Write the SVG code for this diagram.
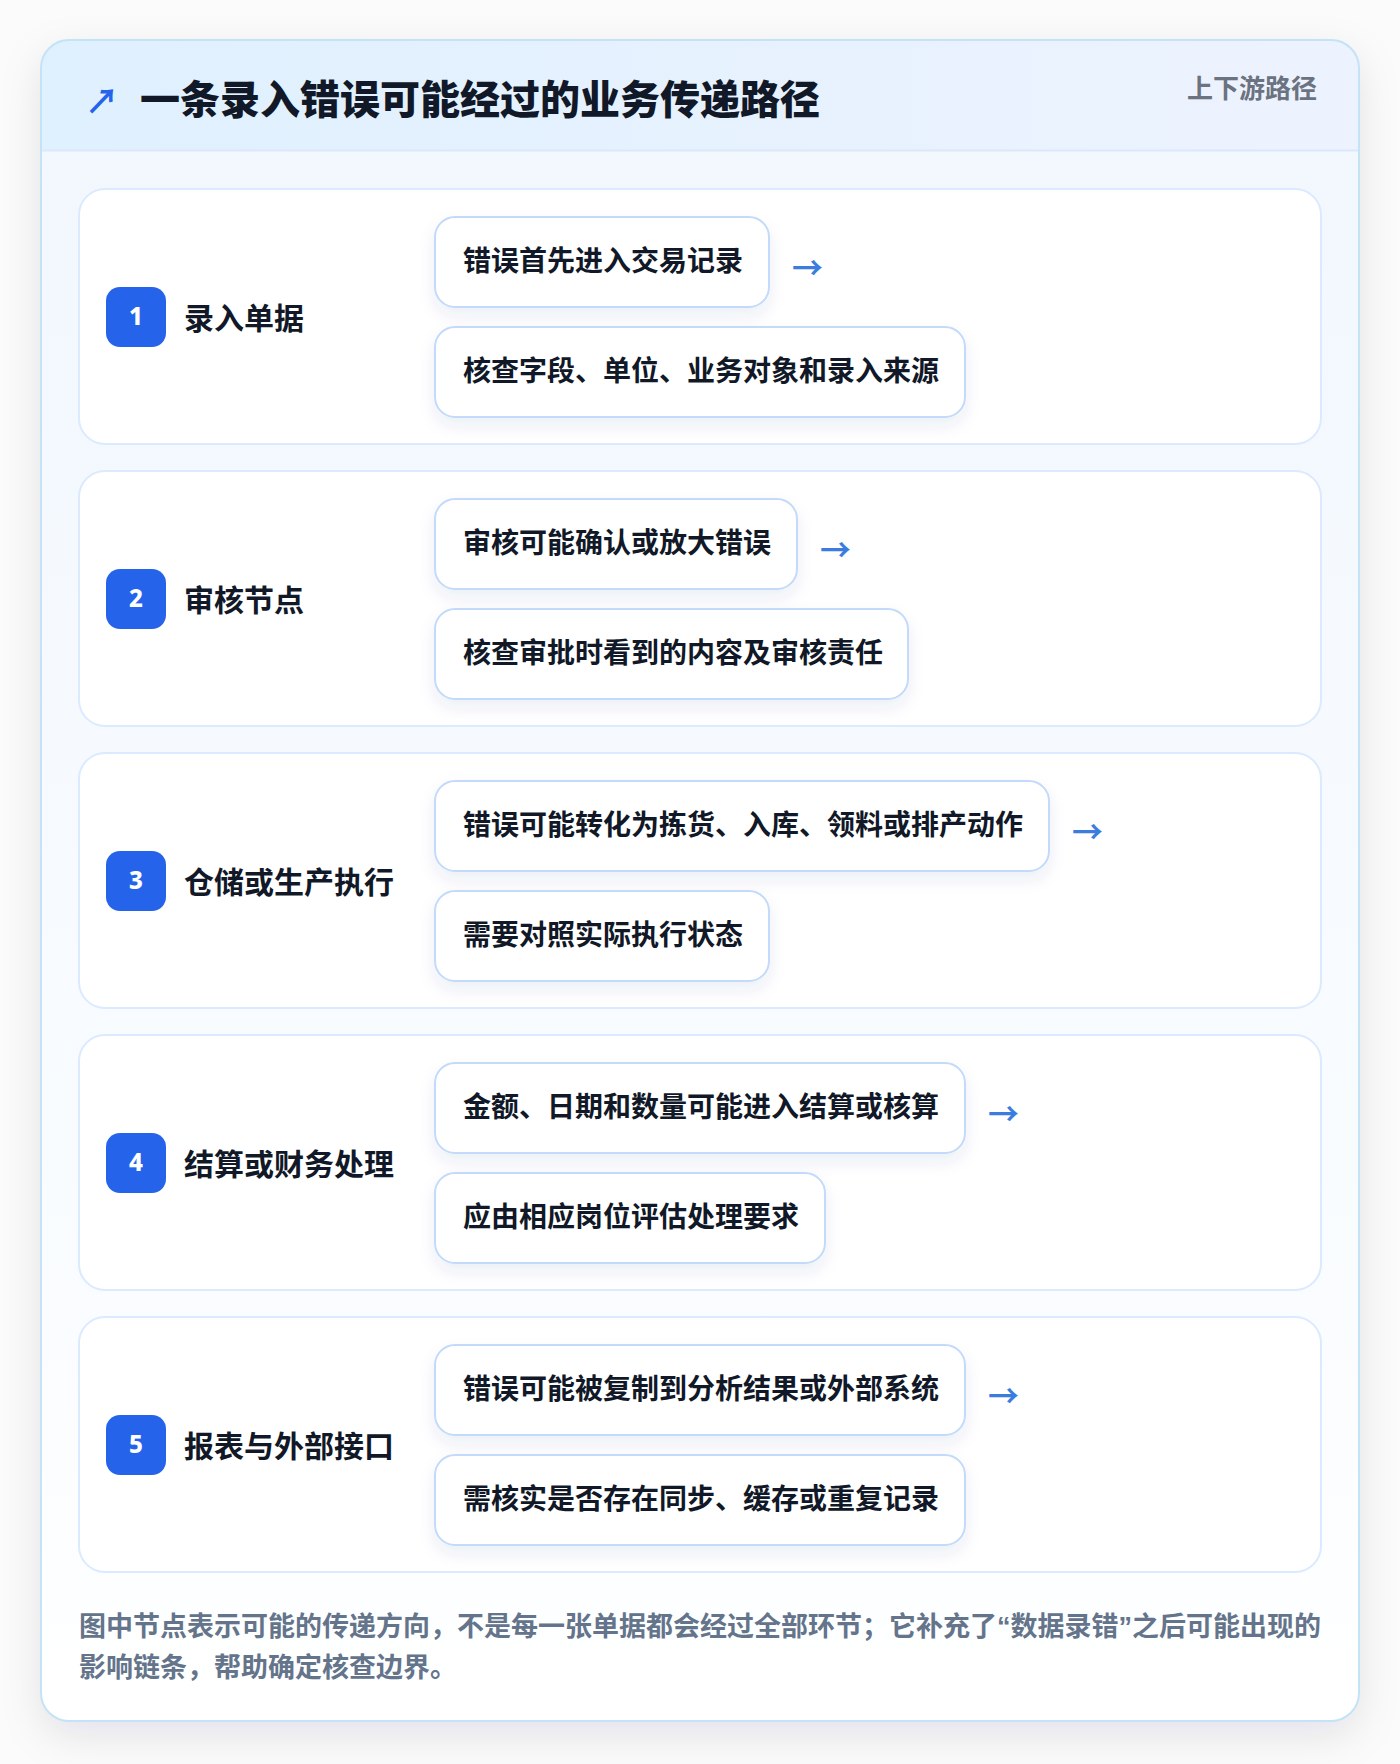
<svg xmlns="http://www.w3.org/2000/svg" width="1400" height="1764" viewBox="0 0 1400 1764">
<defs>
<style>
.cjk{font-family:"Noto Sans CJK SC","Noto Sans",sans-serif;font-weight:700}
.title{font-size:40px;fill:#111827;font-weight:900}
.tag{font-size:26px;fill:#6b7280}
.row{fill:#ffffff;stroke:#dbeafe;stroke-width:2}
.badge{fill:#2563eb}
.num{font-family:"Noto Sans","DejaVu Sans",sans-serif;font-weight:800;font-size:24px;fill:#ffffff}
.label{font-size:30px;fill:#111827}
.box{fill:#ffffff;stroke:#c3dafa;stroke-width:2}
.btxt{font-size:28px;fill:#111827}
.arr{font-size:31px;fill:#3b7ddd;font-weight:700}
.foot{font-size:27px;fill:#64748b}
.q{font-family:"Liberation Sans",sans-serif}
</style>
<linearGradient id="hdr" x1="0" y1="0" x2="1" y2="0">
<stop offset="0" stop-color="#dff0fe"/>
<stop offset="1" stop-color="#edf3fe"/>
</linearGradient>
<linearGradient id="body" x1="0" y1="0" x2="0" y2="1">
<stop offset="0" stop-color="#f1f7fe"/>
<stop offset="0.85" stop-color="#fbfdff"/>
<stop offset="1" stop-color="#ffffff"/>
</linearGradient>
<filter id="cardShadow" x="-10%" y="-10%" width="120%" height="120%">
<feDropShadow dx="0" dy="14" stdDeviation="20" flood-color="#0f172a" flood-opacity="0.10"/>
</filter>
<filter id="boxShadow" x="-10%" y="-20%" width="120%" height="160%">
<feDropShadow dx="0" dy="8" stdDeviation="8" flood-color="#1e3a8a" flood-opacity="0.08"/>
</filter>
<clipPath id="cardClip"><rect x="41" y="40" width="1318" height="1681" rx="28"/></clipPath>
</defs>
<rect x="0" y="0" width="1400" height="1764" fill="#fbfbfc"/>
<g id="card">
<rect x="41" y="40" width="1318" height="1681" rx="28" fill="url(#body)" filter="url(#cardShadow)"/>
<g clip-path="url(#cardClip)">
<rect x="41" y="40" width="1318" height="111" fill="url(#hdr)"/>
<line x1="41" y1="150.5" x2="1359" y2="150.5" stroke="#dbe8f8" stroke-width="2"/>
</g>
<rect x="41" y="40" width="1318" height="1681" rx="28" fill="none" stroke="#c4e3f7" stroke-width="2"/>
</g>
<g id="header">
<text class="cjk" x="85" y="114" font-size="34" fill="#2563eb">↗</text>
<text class="cjk title" x="140" y="114">一条录入错误可能经过的业务传递路径</text>
<text class="cjk tag" x="1317" y="98" text-anchor="end">上下游路径</text>
</g>
<g id="step1">
<rect class="row" x="79" y="189" width="1242" height="255" rx="26"/>
<rect class="badge" x="106" y="287" width="60" height="60" rx="14"/>
<text class="num" x="136" y="325" text-anchor="middle">1</text>
<text class="cjk label" x="184" y="329">录入单据</text>
</g>
<g id="step1a"><rect class="box" x="435" y="217" width="334" height="90" rx="20" filter="url(#boxShadow)"/><text class="cjk btxt" x="463" y="271">错误首先进入交易记录</text></g>
<g id="step1b"><rect class="box" x="435" y="327" width="530" height="90" rx="20" filter="url(#boxShadow)"/><text class="cjk btxt" x="463" y="381">核查字段、单位、业务对象和录入来源</text></g>
<g id="step2">
<rect class="row" x="79" y="471" width="1242" height="255" rx="26"/>
<rect class="badge" x="106" y="569" width="60" height="60" rx="14"/>
<text class="num" x="136" y="607" text-anchor="middle">2</text>
<text class="cjk label" x="184" y="611">审核节点</text>
</g>
<g id="step2a"><rect class="box" x="435" y="499" width="362" height="90" rx="20" filter="url(#boxShadow)"/><text class="cjk btxt" x="463" y="553">审核可能确认或放大错误</text></g>
<g id="step2b"><rect class="box" x="435" y="609" width="473" height="90" rx="20" filter="url(#boxShadow)"/><text class="cjk btxt" x="463" y="663">核查审批时看到的内容及审核责任</text></g>
<g id="step3">
<rect class="row" x="79" y="753" width="1242" height="255" rx="26"/>
<rect class="badge" x="106" y="851" width="60" height="60" rx="14"/>
<text class="num" x="136" y="889" text-anchor="middle">3</text>
<text class="cjk label" x="184" y="893">仓储或生产执行</text>
</g>
<g id="step3a"><rect class="box" x="435" y="781" width="614" height="90" rx="20" filter="url(#boxShadow)"/><text class="cjk btxt" x="463" y="835">错误可能转化为拣货、入库、领料或排产动作</text></g>
<g id="step3b"><rect class="box" x="435" y="891" width="334" height="90" rx="20" filter="url(#boxShadow)"/><text class="cjk btxt" x="463" y="945">需要对照实际执行状态</text></g>
<g id="step4">
<rect class="row" x="79" y="1035" width="1242" height="255" rx="26"/>
<rect class="badge" x="106" y="1133" width="60" height="60" rx="14"/>
<text class="num" x="136" y="1171" text-anchor="middle">4</text>
<text class="cjk label" x="184" y="1175">结算或财务处理</text>
</g>
<g id="step4a"><rect class="box" x="435" y="1063" width="530" height="90" rx="20" filter="url(#boxShadow)"/><text class="cjk btxt" x="463" y="1117">金额、日期和数量可能进入结算或核算</text></g>
<g id="step4b"><rect class="box" x="435" y="1173" width="390" height="90" rx="20" filter="url(#boxShadow)"/><text class="cjk btxt" x="463" y="1227">应由相应岗位评估处理要求</text></g>
<g id="step5">
<rect class="row" x="79" y="1317" width="1242" height="255" rx="26"/>
<rect class="badge" x="106" y="1415" width="60" height="60" rx="14"/>
<text class="num" x="136" y="1453" text-anchor="middle">5</text>
<text class="cjk label" x="184" y="1457">报表与外部接口</text>
</g>
<g id="step5a"><rect class="box" x="435" y="1345" width="530" height="90" rx="20" filter="url(#boxShadow)"/><text class="cjk btxt" x="463" y="1399">错误可能被复制到分析结果或外部系统</text></g>
<g id="step5b"><rect class="box" x="435" y="1455" width="530" height="90" rx="20" filter="url(#boxShadow)"/><text class="cjk btxt" x="463" y="1509">需核实是否存在同步、缓存或重复记录</text></g>
<g id="connectors">
<text class="cjk arr" x="792" y="279">→</text>
<text class="cjk arr" x="820" y="561">→</text>
<text class="cjk arr" x="1072" y="843">→</text>
<text class="cjk arr" x="988" y="1125">→</text>
<text class="cjk arr" x="988" y="1407">→</text>
</g>
<g id="footer">
<text class="cjk foot" x="79" y="1636">图中节点表示可能的传递方向，不是每一张单据都会经过全部环节；它补充了<tspan class="q">“</tspan>数据录错<tspan class="q">”</tspan>之后可能出现的</text>
<text class="cjk foot" x="79" y="1677">影响链条，帮助确定核查边界。</text>
</g>
</svg>
